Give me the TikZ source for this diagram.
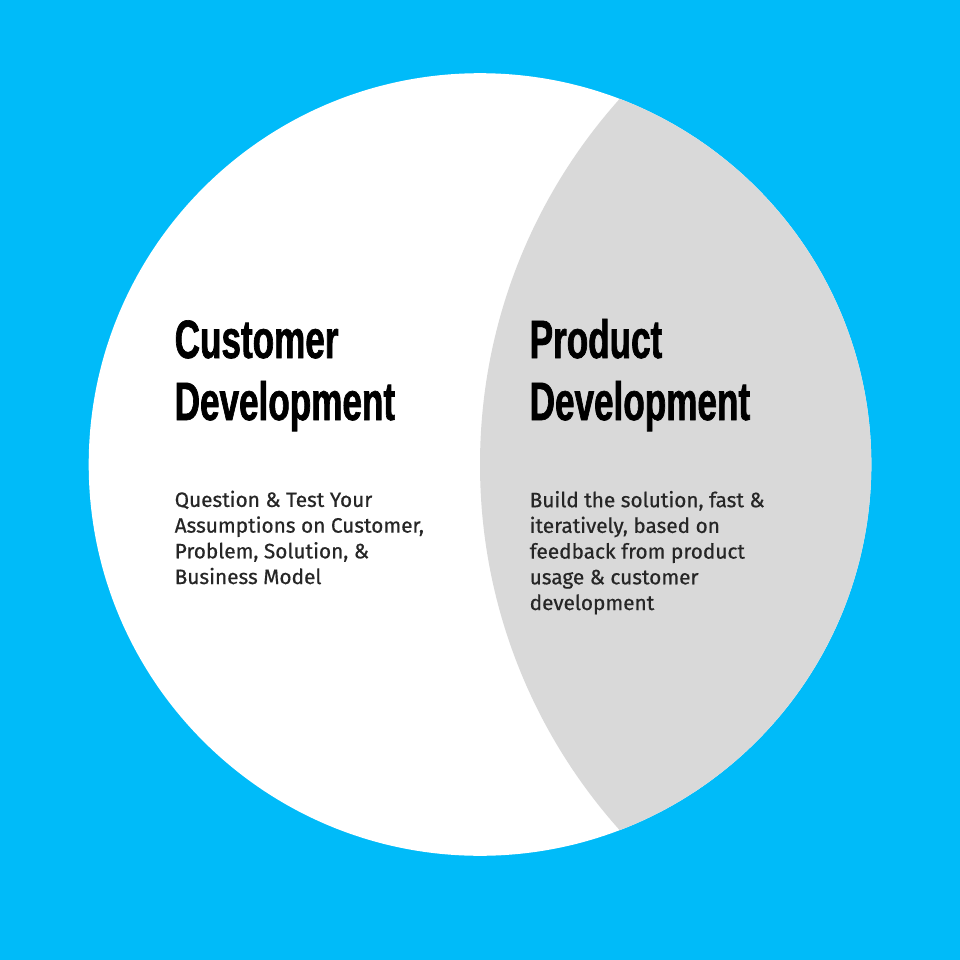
\documentclass[tikz,border=0pt]{standalone}
\usepackage{fontspec}
\setmainfont{Fira Sans}
\newfontfamily\titlefont[FakeStretch=0.65,FakeBold=1.2]{Liberation Sans Bold}
\newfontfamily\bodyfont[FakeBold=0.6]{Fira Sans}
\definecolor{skyblue}{RGB}{0,187,249}
\definecolor{lensgrey}{RGB}{217,217,217}
\definecolor{bodytext}{RGB}{38,38,38}
\tikzset{
  title/.style={anchor=base west, align=left, inner sep=0pt,
    font=\titlefont\fontsize{54}{62}\selectfont, text=black},
  body/.style={anchor=base west, align=left, inner sep=0pt,
    font=\bodyfont\fontsize{20.8}{25.7}\selectfont, text=bodytext},
}
\begin{document}
\begin{tikzpicture}[x=1pt,y=-1pt]
  % background
  \fill[skyblue] (0,0) rectangle (960,960);
  \useasboundingbox (0,0) rectangle (960,960);
  % main disc
  \fill[white] (480,464.5) circle (391.3);
  % right lens of the disc
  \begin{scope}
    \clip (480,464.5) circle (391.3);
    \fill[lensgrey] (1028.4,464.5) circle (548.4);
  \end{scope}
  % titles (base anchor sits on the last line)
  \node[title] (custT) at (174.5,420) {Customer\\Development};
  \node[title] (prodT) at (529.5,420) {Product\\Development};
  % descriptions
  \node[body] (custB) at (174.5,584) {Question \& Test Your\\Assumptions on Customer,\\Problem, Solution, \&\\Business Model};
  \node[body] (prodB) at (529.5,610) {Build the solution, fast \&\\iteratively, based on\\feedback from product\\usage \& customer\\development};
\end{tikzpicture}
\end{document}
